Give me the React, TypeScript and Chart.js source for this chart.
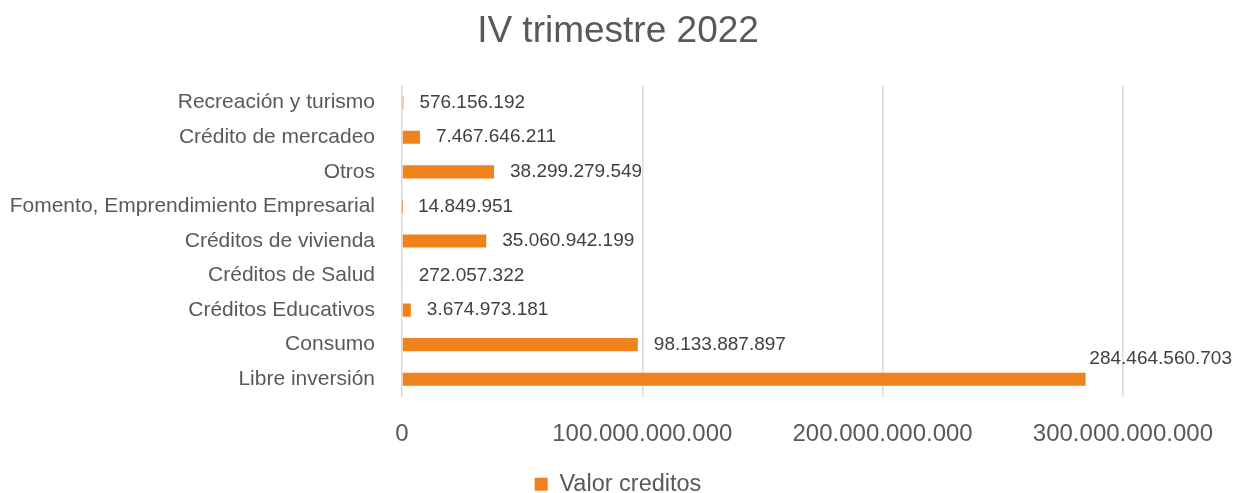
import React, { useEffect, useRef } from "react";
import { Chart, registerables } from "chart.js";

Chart.register(...registerables);

const categories = [
  "Recreación y turismo",
  "Crédito de mercadeo",
  "Otros",
  "Fomento, Emprendimiento Empresarial",
  "Créditos de vivienda",
  "Créditos de Salud",
  "Créditos Educativos",
  "Consumo",
  "Libre inversión",
];

const valorCreditos = [
  576156192,
  7467646211,
  38299279549,
  14849951,
  35060942199,
  272057322,
  3674973181,
  98133887897,
  284464560703,
];

const xTicks = [0, 100000000000, 200000000000, 300000000000];

const FONT = "'Liberation Sans', Arial, sans-serif";
const ORANGE = "#F0821E";
const GRAY = "#595959";

function fmt(v: number): string {
  return String(Math.round(v)).replace(/\B(?=(\d{3})+(?!\d))/g, ".");
}

const valueLabels = {
  id: "valueLabels",
  afterDatasetsDraw(chart: any) {
    const ctx = chart.ctx;
    const meta = chart.getDatasetMeta(0);
    const data = chart.data.datasets[0].data as number[];
    ctx.save();
    ctx.font = `19px ${FONT}`;
    ctx.fillStyle = "#404040";
    ctx.textBaseline = "middle";
    ctx.textAlign = "left";
    meta.data.forEach((bar: any, i: number) => {
      const text = fmt(data[i]);
      const w = ctx.measureText(text).width;
      let x = bar.x + 16;
      let y = bar.y;
      if (x + w > chart.width - 4) {
        x = chart.width - 4 - w;
        y = bar.y - 20;
      }
      ctx.fillText(text, x, y);
    });
    ctx.restore();
  },
};

export default function App() {
  const ref = useRef<HTMLCanvasElement>(null);
  useEffect(() => {
    if (!ref.current) return;
    const chart = new Chart(ref.current, {
      type: "bar",
      data: {
        labels: categories,
        datasets: [
          {
            label: "Valor creditos",
            data: valorCreditos,
            backgroundColor: ORANGE,
            borderWidth: 0,
            categoryPercentage: 1,
            barPercentage: 0.38,
          },
        ],
      },
      options: {
        indexAxis: "y",
        animation: false,
        responsive: true,
        maintainAspectRatio: false,
        layout: { padding: { left: 0, right: 0, top: 0, bottom: -13 } },
        plugins: {
          title: {
            display: true,
            text: "IV trimestre 2022",
            color: GRAY,
            font: { family: FONT, size: 37, weight: "normal" },
            padding: { top: 10, bottom: 31 },
          },
          legend: {
            display: true,
            position: "bottom",
            labels: {
              color: GRAY,
              font: { family: FONT, size: 23.5 },
              boxWidth: 13,
              boxHeight: 13,
              padding: 0,
            },
          },
          tooltip: { enabled: false },
        },
        scales: {
          x: {
            min: 0,
            max: 300000000000,
            afterBuildTicks: (s: any) => {
              s.ticks = xTicks.map((v) => ({ value: v }));
            },
            afterFit: (s: any) => {
              s.height = 76;
            },
            ticks: {
              color: GRAY,
              font: { family: FONT, size: 24 },
              padding: 23,
              maxRotation: 0,
              callback: (v: any) => fmt(Number(v)),
            },
            grid: { color: "#D9D9D9", lineWidth: 1.5, drawTicks: false },
            border: { display: false },
          },
          y: {
            afterFit: (s: any) => {
              s.width = 402;
            },
            ticks: {
              color: GRAY,
              font: { family: FONT, size: 21 },
              padding: 27,
            },
            grid: { display: false, drawTicks: false },
            border: { display: false },
          },
          yr: {
            type: "category",
            axis: "y",
            position: "right",
            afterFit: (s: any) => {
              s.width = 113;
            },
            ticks: { display: false },
            grid: { display: false, drawTicks: false },
            border: { display: false },
          },
        },
      },
      plugins: [valueLabels],
    });
    return () => chart.destroy();
  }, []);
  return (
    <div style={{ position: "fixed", left: 0, top: 0, width: 1236, height: 493, background: "#fff" }}>
      <canvas ref={ref} />
    </div>
  );
}
